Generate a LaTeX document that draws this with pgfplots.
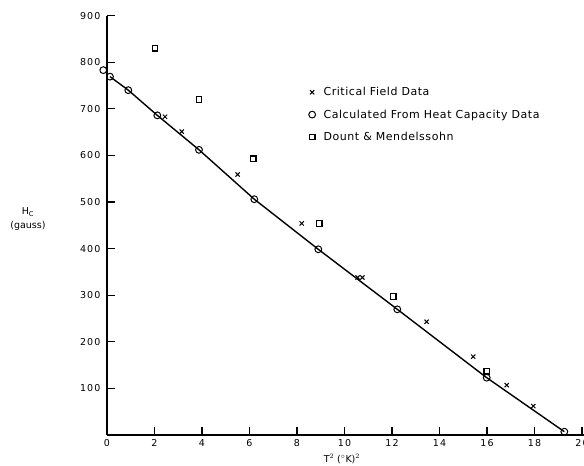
\documentclass[border=0pt]{standalone}
\usepackage{pgfplots}
\pgfplotsset{compat=1.18}
\usepackage{fontspec}
\setmainfont{DejaVu Sans}
\newfontfamily\tickfont{DejaVu Sans}[LetterSpace=12]
\newfontfamily\legfont{DejaVu Sans}[LetterSpace=5]
\begin{document}
\begin{tikzpicture}
\useasboundingbox (-107pt,-31pt) rectangle (477pt,435pt);
\begin{axis}[
  scale only axis,
  width=477pt, height=419.4pt,
  xmin=0, xmax=20.084, ymin=0, ymax=900,
  clip=false,
  axis x line=bottom, axis y line=left,
  x axis line style={-, line width=1.3pt},
  y axis line style={-, line width=1.3pt},
  tick align=inside,
  major tick length=8pt,
  tick style={line width=1.1pt, black},
  xtick={0,2,...,20}, ytick={100,200,...,900},
  /pgf/number format/assume math mode=true,
  ticklabel style={font=\tickfont\fontsize{9.5}{11}\selectfont},
  yticklabel style={xshift=-3pt},
  xticklabel style={yshift=-1pt},
  xlabel={T$^{2}$ ($^{\circ}$K)$^{2}$},
  xlabel style={at={(axis description cs:0.4925,0)}, anchor=north, yshift=-18pt, inner sep=1pt, font=\fontsize{9.5}{11}\selectfont},
  ylabel={H$_{\mathrm{C}}$\\(gauss)},
  ylabel style={rotate=-90, at={(axis description cs:0,0.515)}, anchor=center, xshift=-79pt, align=center, font=\fontsize{9.5}{14}\selectfont},
  legend style={draw=none, fill=none, at={(axis cs:8.36,753)}, anchor=north west,
    font=\legfont\fontsize{11}{13}\selectfont, row sep=10.5pt, column sep=7pt,
    nodes={inner sep=1pt}},
  legend cell align=left,
  legend image code/.code={\draw[#1] plot coordinates {(0pt,0pt)};},
]
\addplot[black, line width=1.4pt, forget plot] coordinates {
(0.126,769) (0.897,740) (2.118,686) (3.874,612) (6.202,506) (8.897,398.5) (12.223,269.7) (15.987,123) (19.255,7.1)};
\addplot[only marks, mark=x, mark size=3pt, black, line width=1pt] coordinates {
(2.442,683) (3.145,651) (5.503,559) (8.198,454) (10.55,338) (10.75,338) (13.46,243) (15.42,168) (16.83,107) (17.95,62)};
\addlegendentry{Critical Field Data}
\addplot[only marks, mark=o, mark size=3.4pt, black, line width=1pt, mark options={fill=white}] coordinates {
(-0.156,783) (0.126,769) (0.897,740) (2.118,686) (3.874,612) (6.202,506) (8.897,398.5) (12.223,269.7) (15.987,123) (19.255,7.1)};
\addlegendentry{Calculated From Heat Capacity Data}
\addplot[only marks, mark=square, mark size=2.8pt, black, line width=1.3pt] coordinates {
(2.02,830) (3.874,720) (6.16,593) (8.94,454) (12.05,297) (15.99,137)};
\addlegendentry{Dount \& Mendelssohn}
\end{axis}
\end{tikzpicture}
\end{document}
